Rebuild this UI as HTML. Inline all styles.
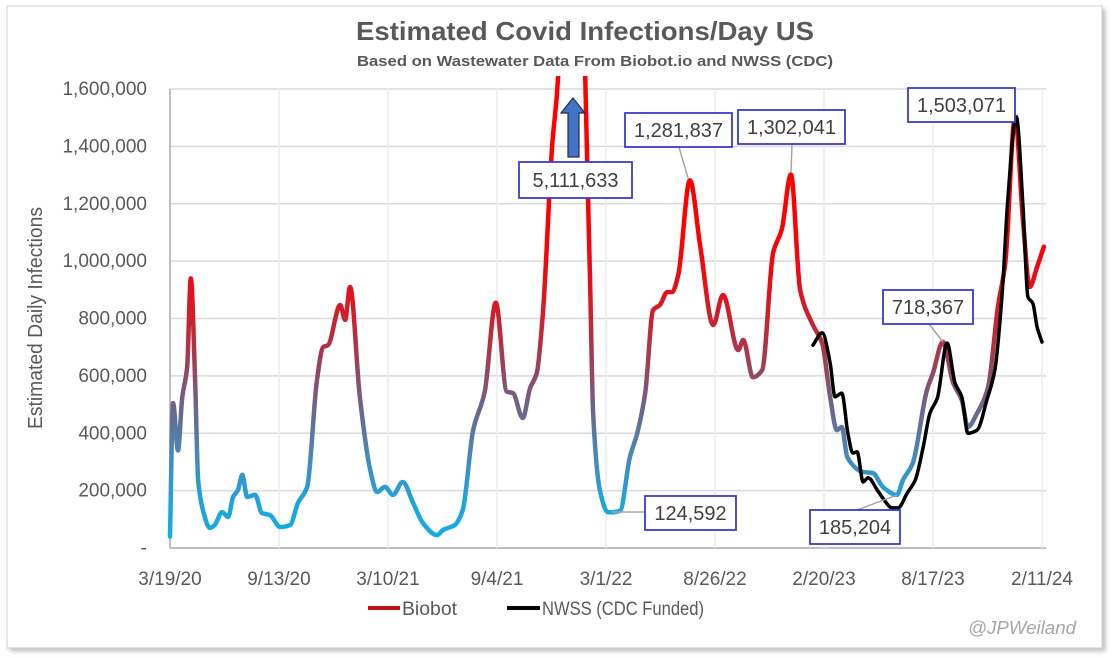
<!DOCTYPE html>
<html><head><meta charset="utf-8"><style>
html,body{margin:0;padding:0;background:#fff;}
svg{display:block;font-family:"Liberation Sans Narrow","Liberation Sans",sans-serif;}
</style></head><body>
<svg id="c" width="1112" height="658" viewBox="0 0 1112 658">
<defs>
<filter id="sh" x="-5%" y="-5%" width="110%" height="110%"><feDropShadow dx="3" dy="3" stdDeviation="2" flood-color="#999" flood-opacity="0.6"/></filter>
<clipPath id="pc"><rect x="165" y="76" width="900" height="480"/></clipPath>
</defs>
<rect x="7" y="6" width="1095" height="642" fill="#fff" stroke="#d0d0d0" filter="url(#sh)"/>
<text x="585" y="40" text-anchor="middle" font-size="26" font-weight="bold" fill="#595959" textLength="458" lengthAdjust="spacingAndGlyphs">Estimated Covid Infections/Day US</text>
<text x="595" y="66" text-anchor="middle" font-size="15" font-weight="bold" fill="#595959" textLength="476" lengthAdjust="spacingAndGlyphs">Based on Wastewater Data From Biobot.io and NWSS (CDC)</text>
<text transform="translate(42,318) rotate(-90)" text-anchor="middle" font-size="20" fill="#595959" textLength="222" lengthAdjust="spacingAndGlyphs">Estimated Daily Infections</text>
<g id="grid"></g><g id="ticks"></g>
<g id="series" clip-path="url(#pc)"></g>
<g id="ann"></g>
<g>
<line x1="368" y1="608" x2="400" y2="608" stroke="#c0141c" stroke-width="4"/>
<text x="402" y="615" font-size="19" fill="#595959" textLength="55" lengthAdjust="spacingAndGlyphs">Biobot</text>
<line x1="507" y1="608" x2="540" y2="608" stroke="#000" stroke-width="4"/>
<text x="542" y="615" font-size="19" fill="#595959" textLength="162" lengthAdjust="spacingAndGlyphs">NWSS (CDC Funded)</text>
</g>
<text x="1076" y="634" text-anchor="end" font-size="18" font-style="italic" fill="#a6a6a6" textLength="108" lengthAdjust="spacingAndGlyphs">@JPWeiland</text>
</svg>
<script>
const xTickLabels = ["3/19/20","9/13/20","3/10/21","9/4/21","3/1/22","8/26/22","2/20/23","8/17/23","2/11/24"];
const xTickDays = [0,178,356,534,712,890,1068,1246,1424];
const yTicks = [0,200000,400000,600000,800000,1000000,1200000,1400000,1600000];
const yTickLabels = ["-","200,000","400,000","600,000","800,000","1,000,000","1,200,000","1,400,000","1,600,000"];
const biobotDays = [0,5,13,20,28,34,41,46,54,65,73,85,95,103,111,118,126,139,150,163,180,196,209,224,240,250,258,278,286,294,310,327,338,351,364,380,397,413,436,446,465,478,495,514,532,550,560,576,588,599,609,624,634,655,678,686,691,702,715,722,735,751,763,776,789,800,812,820,830,849,866,887,903,928,936,952,967,985,999,1014,1029,1050,1065,1078,1089,1097,1106,1132,1148,1164,1187,1197,1213,1236,1246,1262,1279,1293,1303,1318,1336,1352,1364,1380,1393,1404,1416,1427];
const biobotVals = [40000,505000,340000,525000,630000,940000,585000,235000,130000,70000,80000,125000,108000,178000,202000,255000,178000,185000,122000,115000,73000,80000,157000,213000,585000,700000,707000,847000,795000,910000,527000,272000,195000,213000,185000,230000,157000,87000,45000,63000,80000,132000,410000,545000,855000,545000,540000,453000,557000,610000,820000,1400000,1650000,5111633,1650000,930000,470000,202000,125000,124592,130000,317000,400000,540000,830000,847000,892000,892000,952000,1281837,1050000,777000,882000,690000,725000,595000,620000,1030000,1110000,1302041,900000,777000,714000,527000,411000,422000,317000,265000,261000,213000,185204,237000,296000,550000,610000,718367,575000,516000,422000,470000,561000,840000,993000,1503071,1140000,910000,980000,1050000];
const nwssDays = [1050,1065,1078,1086,1097,1107,1115,1122,1132,1140,1155,1164,1179,1189,1204,1217,1230,1241,1253,1269,1282,1293,1303,1318,1334,1347,1359,1368,1382,1393,1401,1409,1416,1424];
const nwssVals = [707000,750000,645000,527000,540000,400000,331000,335000,230000,245000,202000,174000,140000,140000,192000,237000,352000,470000,522000,714000,575000,527000,400000,411000,516000,620000,888000,1210000,1503071,1190000,875000,853000,770000,718000];
const annValues = ["5,111,633","1,281,837","1,302,041","1,503,071","718,367","124,592","185,204"];

const X0=170,X1=1042,Y0=548,Y1=89;
const xs=d=>X0+(d-xTickDays[0])*(X1-X0)/(xTickDays[8]-xTickDays[0]);
const ys=v=>Y0-(v-yTicks[0])*(Y0-Y1)/(yTicks[8]-yTicks[0]);
const NS="http://www.w3.org/2000/svg";
function mk(t,a,p){const e=document.createElementNS(NS,t);for(const k in a)e.setAttribute(k,a[k]);p.appendChild(e);return e;}
const grid=document.getElementById('grid'),ticks=document.getElementById('ticks'),ser=document.getElementById('series'),ann=document.getElementById('ann');
yTicks.forEach((v,i)=>{
  const l=mk('line',{x1:X0,x2:1046,y1:ys(v),y2:ys(v),stroke:i==0?'#bfbfbf':'#d9d9d9','stroke-width':i==0?2:1.5},grid);
  
  
  const t=mk('text',{x:147,y:ys(v)+6,'text-anchor':'end','font-size':19,fill:'#595959'},ticks);
  t.textContent=yTickLabels[i];
  
  
});
xTickDays.forEach((d,i)=>{
  const l=mk('line',{x1:xs(d),x2:xs(d),y1:Y1,y2:Y0,stroke:i==0?'#bfbfbf':'#ececec','stroke-width':i==0?2:1.5},grid);
  
  
  const t=mk('text',{x:xs(d),y:585,'text-anchor':'middle','font-size':19,fill:'#595959'},ticks);
  t.textContent=xTickLabels[i];
  
  
});
function path(ds,vs){
  const p=ds.map((d,i)=>[xs(d),ys(vs[i])]);
  const n=p.length,dl=[],m=[];
  for(let i=0;i<n-1;i++)dl.push((p[i+1][1]-p[i][1])/(p[i+1][0]-p[i][0]));
  for(let i=0;i<n;i++){
    if(i==0)m.push(dl[0]);else if(i==n-1)m.push(dl[n-2]);
    else if(dl[i-1]*dl[i]<=0)m.push(0);
    else{const h0=p[i][0]-p[i-1][0],h1=p[i+1][0]-p[i][0];m.push(3*(h0+h1)/((2*h1+h0)/dl[i-1]+(h1+2*h0)/dl[i]));}
  }
  let s='M'+p[0][0]+','+p[0][1];
  for(let i=0;i<n-1;i++){
    const h=(p[i+1][0]-p[i][0])/3;
    s+=' C'+(p[i][0]+h)+','+(p[i][1]+m[i]*h)+' '+(p[i+1][0]-h)+','+(p[i+1][1]-m[i+1]*h)+' '+p[i+1][0]+','+p[i+1][1];
  }
  return s;
}
const defs=document.querySelector('defs');
const g=mk('linearGradient',{id:'bg',gradientUnits:'userSpaceOnUse',x1:0,x2:0,y1:ys(0),y2:ys(1100000)},defs);
[[0,'#12aee8'],[0.15,'#1ea4dc'],[0.3,'#4a86b6'],[0.45,'#6e6488'],[0.6,'#a23c54'],[0.75,'#d41c28'],[0.88,'#f00810'],[1,'#ff0000']].forEach(s=>mk('stop',{offset:s[0],'stop-color':s[1]},g));
const bp=mk('path',{d:path(biobotDays,biobotVals),fill:'none',stroke:'url(#bg)','stroke-width':4.5,'stroke-linejoin':'round','stroke-linecap':'round'},ser);


const np=mk('path',{d:path(nwssDays,nwssVals),fill:'none',stroke:'#000','stroke-width':3.5,'stroke-linejoin':'round','stroke-linecap':'round'},ser);


const ar=mk('path',{d:'M568,157 L568,113 L561,113 L573,98 L585,113 L579,113 L579,157 Z',fill:'#4472c4',stroke:'#1f2d5a','stroke-width':1.2},ann);


const boxes=[[519,162,113,36,null],[625,113,107,34,[679,147,688,178]],[738,110,107,34,[792,144,791,172]],[908,88,107,34,null],[883,290,90,34,[929,324,943,342]],[645,496,91,34,[612,512,645,512]],[810,510,90,34,[857,510,897,495]]];
boxes.forEach((b,i)=>{
  if(b[4]){const l=mk('line',{x1:b[4][0],y1:b[4][1],x2:b[4][2],y2:b[4][3],stroke:'#a6a6a6','stroke-width':1.5},ann);
    
    }
  const r=mk('rect',{x:b[0],y:b[1],width:b[2],height:b[3],fill:'#fff',stroke:'#3b3bd0','stroke-width':1.8},ann);
  
  
  const t=mk('text',{x:b[0]+b[2]/2,y:b[1]+b[3]/2+7,'text-anchor':'middle','font-size':20,fill:'#404040'},ann);
  t.textContent=annValues[i];
  
  
});
</script>
</body></html>
